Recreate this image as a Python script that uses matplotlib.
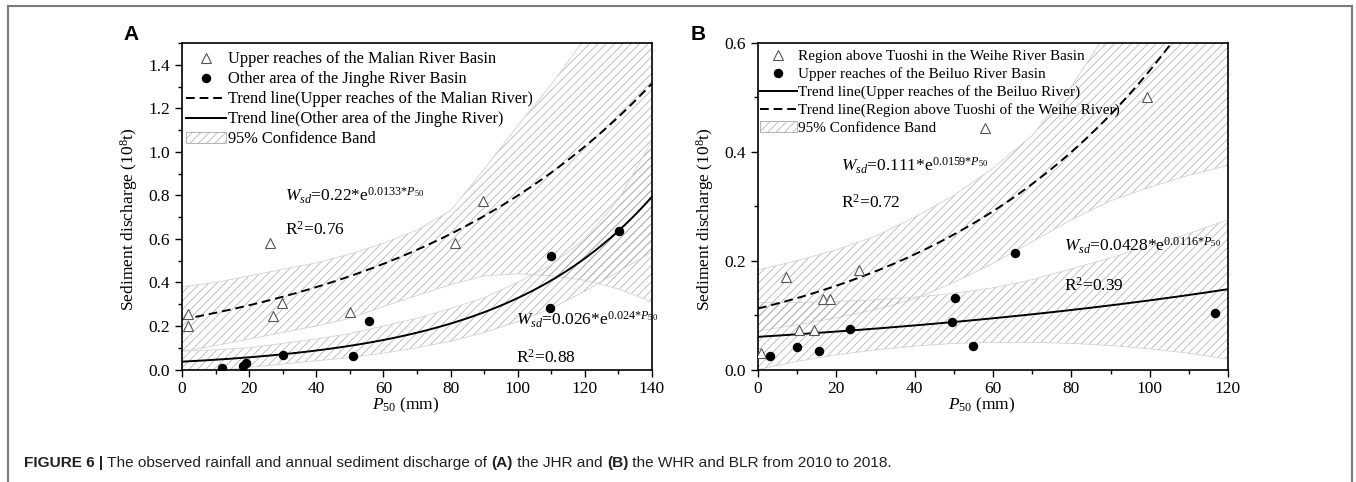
import matplotlib
matplotlib.use('Agg')
import matplotlib.pyplot as plt
import numpy as np
from matplotlib.lines import Line2D
from matplotlib.patches import Patch

plt.rcParams['font.family'] = ['Liberation Serif', 'DejaVu Serif']
plt.rcParams['mathtext.fontset'] = 'custom'
plt.rcParams['mathtext.rm'] = 'Liberation Serif'
plt.rcParams['mathtext.it'] = 'Liberation Serif:italic'
plt.rcParams['mathtext.bf'] = 'Liberation Serif:bold'
plt.rcParams['hatch.linewidth'] = 0.5
plt.rcParams['hatch.color'] = '#a8a8a8'

# ---------------- Panel A data ----------------
a_malian_x = [1.8, 1.8, 26.1, 27.2, 29.7, 49.9, 81.3, 89.7]
a_malian_y = [0.255, 0.200, 0.581, 0.247, 0.307, 0.263, 0.583, 0.776]
a_jinghe_x = [11.9, 18.2, 19.0, 30.2, 50.8, 55.8, 109.5, 110.0, 130.3]
a_jinghe_y = [0.005, 0.014, 0.030, 0.068, 0.060, 0.225, 0.283, 0.520, 0.636]
a_trend_malian = (0.23, 0.01245)   # a, b of a*exp(b*P50) as drawn
a_trend_jinghe = (0.036, 0.0221)
a_band_x = [0, 10, 20, 30, 40, 50, 60, 70, 80, 90, 100, 110, 120, 130, 140]
a_band_malian_hi = [0.38, 0.40, 0.43, 0.46, 0.49, 0.53, 0.58, 0.64, 0.73, 0.92, 1.12, 1.31, 1.52, 1.78, 2.10]
a_band_malian_lo = [0.083, 0.11, 0.14, 0.17, 0.20, 0.235, 0.29, 0.34, 0.39, 0.43, 0.44, 0.43, 0.41, 0.37, 0.31]
a_band_jinghe_hi = [0.085, 0.09, 0.10, 0.12, 0.14, 0.165, 0.20, 0.235, 0.28, 0.33, 0.40, 0.48, 0.60, 0.78, 1.05]
a_band_jinghe_lo = [-0.02, -0.005, 0.01, 0.025, 0.04, 0.055, 0.075, 0.10, 0.13, 0.17, 0.22, 0.28, 0.36, 0.45, 0.54]

# ---------------- Panel B data ----------------
b_weihe_x = [0.7, 7.2, 10.5, 14.3, 16.6, 18.5, 25.9, 58.0, 99.4]
b_weihe_y = [0.030, 0.170, 0.072, 0.072, 0.129, 0.129, 0.182, 0.443, 0.500]
b_beiluo_x = [3.0, 9.9, 15.7, 23.4, 49.6, 50.4, 54.8, 65.7, 116.8]
b_beiluo_y = [0.025, 0.042, 0.034, 0.074, 0.087, 0.132, 0.043, 0.214, 0.103]
b_trend_weihe = (0.112, 0.0159)
b_trend_beiluo = (0.060, 0.0075)
b_band_x = [0, 10, 20, 30, 40, 50, 60, 70, 80, 90, 100, 110, 120]
b_band_weihe_hi = [0.183, 0.20, 0.22, 0.245, 0.28, 0.32, 0.37, 0.43, 0.52, 0.63, 0.76, 0.90, 1.05]
b_band_weihe_lo = [0.071, 0.082, 0.095, 0.11, 0.13, 0.16, 0.195, 0.235, 0.275, 0.31, 0.335, 0.357, 0.375]
b_band_beiluo_hi = [0.123, 0.123, 0.125, 0.128, 0.133, 0.14, 0.15, 0.165, 0.185, 0.205, 0.228, 0.25, 0.275]
b_band_beiluo_lo = [0.0, 0.015, 0.027, 0.036, 0.043, 0.048, 0.05, 0.05, 0.048, 0.044, 0.038, 0.03, 0.019]

W, H = 1356, 482
fig = plt.figure(figsize=(W / 100, H / 100), dpi=100)

HATCH = '////'
HCOL = '#a8a8a8'
DASH = (0, (4.5, 2.5))


def band(ax, x, lo, hi):
    ax.fill_between(x, lo, hi, facecolor='none', edgecolor=HCOL, hatch=HATCH, linewidth=0, zorder=1)
    ax.plot(x, lo, color='#d2d2d2', lw=0.6, zorder=1)
    ax.plot(x, hi, color='#d2d2d2', lw=0.6, zorder=1)


def trend(ax, params, xmax, ls):
    xs = np.linspace(0, xmax, 300)
    a, b = params
    ax.plot(xs, a * np.exp(b * xs), color='black', lw=1.4, ls=ls, zorder=3)


def style(ax, xmax, xmaj, ymax, ymaj):
    ax.set_xlim(0, xmax)
    ax.set_ylim(0, ymax)
    ax.set_xticks(np.arange(0, xmax + 0.1, xmaj))
    ax.set_xticks(np.arange(0, xmax + 0.1, xmaj / 2), minor=True)
    ax.set_yticks(np.arange(0, ymax + 1e-6, ymaj))
    ax.set_yticks(np.arange(0, ymax + 1e-6, ymaj / 2), minor=True)
    ax.yaxis.set_major_formatter(matplotlib.ticker.FormatStrFormatter('%.1f'))
    ax.tick_params(which='major', direction='out', length=5, width=1.0, labelsize=12.5)
    ax.tick_params(which='minor', direction='out', length=3, width=1.0)
    for s in ax.spines.values():
        s.set_linewidth(1.2)
    ax.set_xlabel(r'$P_{50}$ (mm)', fontsize=12.5)
    ax.set_ylabel(r'Sediment discharge (10$^8$t)', fontsize=12.6)
    ax.xaxis.set_label_coords(0.477, -0.08)
    ax.yaxis.set_label_coords(-0.089, 0.462)


tri_kw = dict(marker='^', mfc='white', mec='#555555', mew=0.8, ms=6.5, ls='none', zorder=4)
dot_kw = dict(marker='o', mfc='black', mec='black', ms=5.8, ls='none', zorder=4)

# ---------------- Panel A ----------------
axA = fig.add_axes([182 / W, 1 - 369.5 / H, 470 / W, 326.5 / H])
band(axA, a_band_x, a_band_malian_lo, a_band_malian_hi)
band(axA, a_band_x, a_band_jinghe_lo, a_band_jinghe_hi)
trend(axA, a_trend_malian, 140, DASH)
trend(axA, a_trend_jinghe, 140, '-')
axA.plot(a_malian_x, a_malian_y, **tri_kw)
axA.plot(a_jinghe_x, a_jinghe_y, **dot_kw)
style(axA, 140, 20, 1.5, 0.2)
axA.set_yticks(np.arange(0, 1.41, 0.2))

fs_ann = 12.5
axA.text(30.6, 0.80, r'$W_{sd}$=0.22*e$^{0.0133{*}P_{50}}$', fontsize=fs_ann, va='center')
axA.text(30.6, 0.64, r'R$^2$=0.76', fontsize=fs_ann, va='center')
axA.text(99.6, 0.228, r'$W_{sd}$=0.026*e$^{0.024{*}P_{50}}$', fontsize=fs_ann, va='center')
axA.text(99.6, 0.053, r'R$^2$=0.88', fontsize=fs_ann, va='center')

handlesA = [
    Line2D([], [], **tri_kw),
    Line2D([], [], **dot_kw),
    Line2D([], [], color='black', lw=1.4, ls=DASH),
    Line2D([], [], color='black', lw=1.4, ls='-'),
    Patch(facecolor='none', edgecolor=HCOL, hatch=HATCH, linewidth=0.6),
]
labelsA = ['Upper reaches of the Malian River Basin',
           'Other area of the Jinghe River Basin',
           'Trend line(Upper reaches of the Malian River)',
           'Trend line(Other area of the Jinghe River)',
           '95% Confidence Band']
axA.legend(handlesA, labelsA, loc='upper left', bbox_to_anchor=(0.0085, 0.9745), frameon=False,
           fontsize=11.8, handlelength=2.44, handletextpad=0.1, labelspacing=0.245,
           borderaxespad=0, borderpad=0)

# ---------------- Panel B ----------------
axB = fig.add_axes([758 / W, 1 - 369.5 / H, 470 / W, 326.5 / H])
band(axB, b_band_x, b_band_weihe_lo, b_band_weihe_hi)
band(axB, b_band_x, b_band_beiluo_lo, b_band_beiluo_hi)
trend(axB, b_trend_weihe, 120, DASH)
trend(axB, b_trend_beiluo, 120, '-')
axB.plot(b_weihe_x, b_weihe_y, **tri_kw)
axB.plot(b_beiluo_x, b_beiluo_y, **dot_kw)
style(axB, 120, 20, 0.6, 0.2)

axB.text(21.1, 0.375, r'$W_{sd}$=0.111*e$^{0.0159{*}P_{50}}$', fontsize=fs_ann, va='center')
axB.text(21.1, 0.307, r'R$^2$=0.72', fontsize=fs_ann, va='center')
axB.text(78.1, 0.228, r'$W_{sd}$=0.0428*e$^{0.0116{*}P_{50}}$', fontsize=fs_ann, va='center')
axB.text(78.1, 0.154, r'R$^2$=0.39', fontsize=fs_ann, va='center')

handlesB = [
    Line2D([], [], **tri_kw),
    Line2D([], [], **dot_kw),
    Line2D([], [], color='black', lw=1.4, ls='-'),
    Line2D([], [], color='black', lw=1.4, ls=DASH),
    Patch(facecolor='none', edgecolor=HCOL, hatch=HATCH, linewidth=0.6),
]
labelsB = ['Region above Tuoshi in the Weihe River Basin',
           'Upper reaches of the Beiluo River Basin',
           'Trend line(Upper reaches of the Beiluo River)',
           'Trend line(Region above Tuoshi of the Weihe River)',
           '95% Confidence Band']
axB.legend(handlesB, labelsB, loc='upper left', bbox_to_anchor=(0.004, 0.981), frameon=False,
           fontsize=11, handlelength=2.4, handletextpad=0.1, labelspacing=0.275,
           borderaxespad=0, borderpad=0)

# ---------------- panel letters ----------------
fig.text(131 / W, 1 - 35 / H, 'A', fontsize=15, fontweight='bold', family=['Liberation Sans'],
         ha='center', va='center')
fig.text(698 / W, 1 - 35 / H, 'B', fontsize=15, fontweight='bold', family=['Liberation Sans'],
         ha='center', va='center')

# ---------------- frame ----------------
fc = '#7a7a7a'
fig.add_artist(Line2D([8 / W, 8 / W], [0, 1 - 6 / H], color=fc, lw=1.5, transform=fig.transFigure))
fig.add_artist(Line2D([8 / W, 1352 / W], [1 - 6 / H, 1 - 6 / H], color=fc, lw=1.5, transform=fig.transFigure))
fig.add_artist(Line2D([1352 / W, 1352 / W], [0, 1 - 6 / H], color=fc, lw=1.5, transform=fig.transFigure))

# ---------------- caption ----------------
parts = [('FIGURE 6 | ', True), ('The observed rainfall and annual sediment discharge of ', False),
         ('(A)', True), (' the JHR and ', False), ('(B)', True),
         (' the WHR and BLR from 2010 to 2018.', False)]
renderer = fig.canvas.get_renderer()
xpos = 24
ycap = 1 - 463 / H
for txt, bold in parts:
    t = fig.text(xpos / W, ycap, txt, fontsize=11.1, fontweight='bold' if bold else 'normal',
                 family=['Liberation Sans'], va='center', ha='left', color='#222222')
    bb = t.get_window_extent(renderer)
    xpos = bb.x1

fig.savefig('out.png', dpi=100)
